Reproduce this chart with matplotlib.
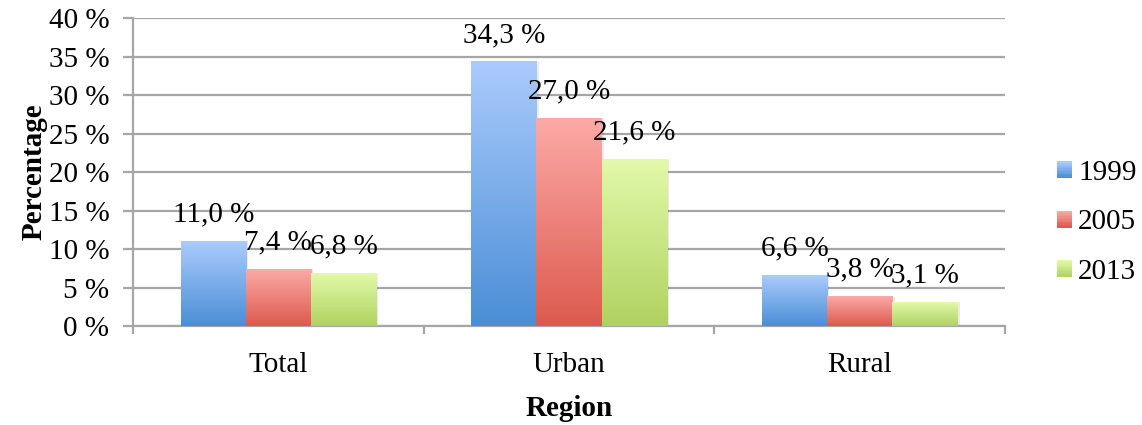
import numpy as np
import matplotlib.pyplot as plt
from matplotlib.patches import Patch, Rectangle
from matplotlib.legend_handler import HandlerBase
from matplotlib.ticker import FuncFormatter, MultipleLocator
from matplotlib.colors import LinearSegmentedColormap

plt.rcParams['font.family'] = ['Liberation Serif', 'DejaVu Serif']
plt.rcParams['font.size'] = 21

regions = ["Total", "Urban", "Rural"]
years = ["1999", "2005", "2013"]
values_1999 = [11.0, 34.3, 6.6]
values_2005 = [7.4, 27.0, 3.8]
values_2013 = [6.8, 21.6, 3.1]

# (top colour, bottom colour) for each series
GRADIENTS = [("#abcbfc", "#4a8ed6"),
             ("#fcaaa7", "#dc5a4e"),
             ("#e2f9aa", "#b0d260")]
GRID = "#a6a6a6"


class GradientHandler(HandlerBase):
    """legend square filled with the same top-to-bottom gradient as the bars"""
    def create_artists(self, legend, orig_handle, xdescent, ydescent,
                       width, height, fontsize, trans):
        cmap = orig_handle.cmap
        n = 12
        arts = []
        for k in range(n):
            arts.append(Rectangle((-xdescent, -ydescent + height * k / n),
                                  width, height / n + 0.05,
                                  facecolor=cmap(k / (n - 1)), lw=0,
                                  transform=trans))
        return arts


fig = plt.figure(figsize=(11.42, 4.25), dpi=100)
ax = fig.add_axes([0.1165, 0.2329, 0.7635, 0.7247])

series = [values_1999, values_2005, values_2013]
x = np.arange(len(regions))
bar_w = 0.224

grad = np.linspace(1, 0, 256).reshape(-1, 1)
handles = []
for i, (vals, (top, bot)) in enumerate(zip(series, GRADIENTS)):
    pos = x + (i - 1) * bar_w
    cmap = LinearSegmentedColormap.from_list("g%d" % i, [bot, top])
    bars = ax.bar(pos, vals, width=bar_w, color=top, zorder=2, linewidth=0)
    h = Patch(facecolor=top)
    h.cmap = cmap
    handles.append(h)
    for b, v in zip(bars, vals):
        x0 = b.get_x()
        ax.imshow(grad, extent=[x0, x0 + bar_w, 0, v], aspect="auto",
                  cmap=cmap, zorder=3, interpolation="bicubic")
        # faint drop shadow on the right edge
        ax.add_patch(plt.Rectangle((x0 + bar_w, 0), 0.008, v, color="#000000",
                                   alpha=0.08, lw=0, zorder=1.5))
        ax.annotate("{:.1f} %".format(v).replace(".", ","),
                    xy=(x0 + bar_w / 2, v), xytext=(0, 10),
                    textcoords="offset points", ha="center", va="bottom",
                    fontsize=21, zorder=5)

ax.set_xlim(-0.5, 2.5)
ax.set_ylim(0, 40)
ax.yaxis.set_major_locator(MultipleLocator(5))
ax.yaxis.set_major_formatter(FuncFormatter(lambda v, p: "%d %%" % v))
ax.yaxis.grid(True, color=GRID, lw=1.6, zorder=0)
ax.set_axisbelow(True)

ax.set_xticks(x)
ax.set_xticklabels(regions)
ax.set_xticks([-0.5, 0.5, 1.5, 2.5], minor=True)
ax.tick_params(axis="x", which="major", length=0, pad=19)
ax.tick_params(axis="x", which="minor", length=6, width=1.6, color=GRID)
ax.tick_params(axis="y", length=7, width=1.6, color=GRID, pad=10)

for side in ["top", "right"]:
    ax.spines[side].set_visible(False)
for side in ["left", "bottom"]:
    ax.spines[side].set_color(GRID)
    ax.spines[side].set_linewidth(1.6)

ax.set_ylabel("Percentage", fontweight="bold", fontsize=21, labelpad=1)
ax.set_xlabel("Region", fontweight="bold", fontsize=21, labelpad=12)

fig.legend(handles, years, loc="center left", bbox_to_anchor=(0.9256, 0.4765),
           frameon=False, fontsize=21, handlelength=0.52, handleheight=0.52,
           handletextpad=0.2, labelspacing=0.8, borderpad=0, borderaxespad=0,
           handler_map={Patch: GradientHandler()})

fig.savefig("out.png", dpi=100)
